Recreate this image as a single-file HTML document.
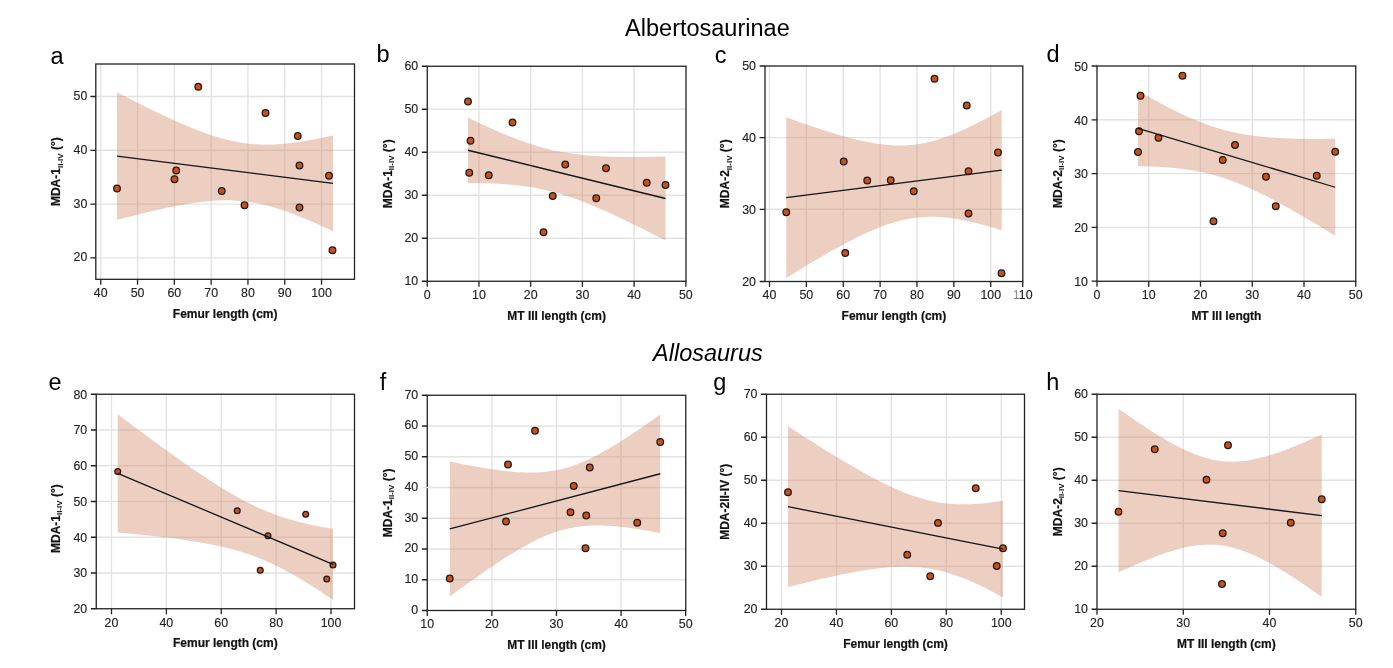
<!DOCTYPE html>
<html lang="en"><head><meta charset="utf-8"><title>Albertosaurinae and Allosaurus divarication vs length</title>
<style>html,body{margin:0;padding:0;background:#fff}body{width:1393px;height:668px;overflow:hidden}svg{display:block;will-change:transform}
text{font-family:"Liberation Sans", Arial, Helvetica, sans-serif;fill:#222}
.tk{font-size:12.4px;stroke:#222;stroke-width:.12px}.ti{font-size:12px;font-weight:bold;fill:#111;stroke:#111;stroke-width:.2px}.yt{font-size:12px;font-weight:bold;fill:#111;stroke:#111;stroke-width:.2px}.sb{font-size:8px;stroke:none}.pl{font-size:23.5px;fill:#000}.hd{font-size:23.5px;fill:#000}
.g{stroke:#e3e3e3;stroke-width:1.4;fill:none}.fr{stroke:#222;stroke-width:1.3;fill:none}.t{stroke:#222;stroke-width:1.3}.rb{fill:rgba(210,135,103,0.4);stroke:none}.ln{stroke:#141414;stroke-width:1.3;fill:none}.p{fill:#cc4f16;stroke:#1a1a1a;stroke-width:1.3}
</style></head><body>
<svg width="1393" height="668" viewBox="0 0 1393 668">
<rect width="1393" height="668" fill="#fff"/>
<text class="hd" x="707.4" y="35.8" text-anchor="middle">Albertosaurinae</text>
<text class="hd" x="707.9" y="360.5" text-anchor="middle" font-style="italic">Allosaurus</text>
<g id="panel-a">
<path class="g" d="M100.75 64V279.3M137.55 64V279.3M174.35 64V279.3M211.15 64V279.3M247.95 64V279.3M284.75 64V279.3M321.55 64V279.3M95.8 96.5H354.5M95.8 150.3H354.5M95.8 204.1H354.5M95.8 257.9H354.5"/>
<polygon class="rb" points="117,92.34 120.66,94.23 124.32,96.11 127.98,97.98 131.64,99.84 135.31,101.68 138.97,103.52 142.63,105.34 146.29,107.15 149.95,108.95 153.61,110.72 157.27,112.48 160.93,114.22 164.59,115.95 168.25,117.64 171.92,119.32 175.58,120.97 179.24,122.59 182.9,124.18 186.56,125.73 190.22,127.25 193.88,128.73 197.54,130.17 201.2,131.56 204.86,132.9 208.53,134.19 212.19,135.42 215.85,136.58 219.51,137.68 223.17,138.71 226.83,139.67 230.49,140.54 234.15,141.34 237.81,142.04 241.47,142.67 245.14,143.2 248.8,143.65 252.46,144.01 256.12,144.28 259.78,144.46 263.44,144.56 267.1,144.58 270.76,144.52 274.42,144.39 278.08,144.19 281.75,143.93 285.41,143.6 289.07,143.22 292.73,142.78 296.39,142.3 300.05,141.77 303.71,141.19 307.37,140.58 311.03,139.94 314.69,139.26 318.36,138.55 322.02,137.82 325.68,137.06 329.34,136.27 333,135.47 333,231.25 329.34,229.52 325.68,227.81 322.02,226.13 318.36,224.47 314.69,222.84 311.03,221.24 307.37,219.67 303.71,218.14 300.05,216.65 296.39,215.2 292.73,213.79 289.07,212.43 285.41,211.12 281.75,209.88 278.08,208.69 274.42,207.56 270.76,206.51 267.1,205.53 263.44,204.63 259.78,203.8 256.12,203.07 252.46,202.41 248.8,201.85 245.14,201.37 241.47,200.98 237.81,200.68 234.15,200.47 230.49,200.34 226.83,200.29 223.17,200.32 219.51,200.43 215.85,200.61 212.19,200.85 208.53,201.16 204.86,201.52 201.2,201.94 197.54,202.41 193.88,202.92 190.22,203.48 186.56,204.08 182.9,204.71 179.24,205.38 175.58,206.07 171.92,206.8 168.25,207.55 164.59,208.33 160.93,209.13 157.27,209.94 153.61,210.78 149.95,211.64 146.29,212.51 142.63,213.39 138.97,214.29 135.31,215.21 131.64,216.13 127.98,217.07 124.32,218.01 120.66,218.97 117,219.94"/>
<circle class="p" cx="198.25" cy="86.75" r="3.3"/>
<circle class="p" cx="265.5" cy="113" r="3.3"/>
<circle class="p" cx="297.75" cy="136" r="3.3"/>
<circle class="p" cx="299.5" cy="165.5" r="3.3"/>
<circle class="p" cx="329" cy="175.75" r="3.3"/>
<circle class="p" cx="176.25" cy="170.5" r="3.3"/>
<circle class="p" cx="174.5" cy="179.25" r="3.3"/>
<circle class="p" cx="117" cy="188.5" r="3.3"/>
<circle class="p" cx="221.75" cy="191" r="3.3"/>
<circle class="p" cx="244.5" cy="205.25" r="3.3"/>
<circle class="p" cx="299.5" cy="207.5" r="3.3"/>
<circle class="p" cx="332.5" cy="250.25" r="3.3"/>
<path class="ln" d="M117 156.14L333 183.36"/>
<rect class="fr" x="95.8" y="64" width="258.7" height="215.3"/>
<path class="t" d="M100.75 279.3v5.4M137.55 279.3v5.4M174.35 279.3v5.4M211.15 279.3v5.4M247.95 279.3v5.4M284.75 279.3v5.4M321.55 279.3v5.4M95.8 96.5h-5.4M95.8 150.3h-5.4M95.8 204.1h-5.4M95.8 257.9h-5.4"/>
<text class="tk" x="100.75" y="297.2" text-anchor="middle">40</text>
<text class="tk" x="137.55" y="297.2" text-anchor="middle">50</text>
<text class="tk" x="174.35" y="297.2" text-anchor="middle">60</text>
<text class="tk" x="211.15" y="297.2" text-anchor="middle">70</text>
<text class="tk" x="247.95" y="297.2" text-anchor="middle">80</text>
<text class="tk" x="284.75" y="297.2" text-anchor="middle">90</text>
<text class="tk" x="321.55" y="297.2" text-anchor="middle">100</text>
<text class="tk" x="87.4" y="100" text-anchor="end">50</text>
<text class="tk" x="87.4" y="153.8" text-anchor="end">40</text>
<text class="tk" x="87.4" y="207.6" text-anchor="end">30</text>
<text class="tk" x="87.4" y="261.4" text-anchor="end">20</text>
<text class="ti" x="225.15" y="317.9" text-anchor="middle">Femur length (cm)</text>
<text class="yt" transform="translate(60.3 171.65) rotate(-90)" text-anchor="middle">MDA-1<tspan class="sb" dy="2.6">II-IV</tspan><tspan dy="-2.6"> (°)</tspan></text>
<text class="pl" x="50.6" y="63.8">a</text>
</g>
<g id="panel-b">
<path class="g" d="M478.97 66.25V281.25M530.69 66.25V281.25M582.41 66.25V281.25M634.13 66.25V281.25M427.25 109.25H686M427.25 152.25H686M427.25 195.25H686M427.25 238.25H686"/>
<polygon class="rb" points="468,117.53 471.35,119.15 474.69,120.75 478.04,122.34 481.39,123.92 484.74,125.47 488.08,127 491.43,128.52 494.78,130.01 498.13,131.47 501.47,132.91 504.82,134.32 508.17,135.7 511.52,137.05 514.86,138.36 518.21,139.64 521.56,140.87 524.91,142.06 528.25,143.21 531.6,144.32 534.95,145.37 538.3,146.38 541.64,147.33 544.99,148.24 548.34,149.09 551.69,149.88 555.03,150.63 558.38,151.32 561.73,151.96 565.08,152.56 568.42,153.1 571.77,153.6 575.12,154.05 578.47,154.46 581.81,154.83 585.16,155.16 588.51,155.46 591.86,155.72 595.2,155.96 598.55,156.16 601.9,156.34 605.25,156.49 608.59,156.61 611.94,156.72 615.29,156.81 618.64,156.87 621.98,156.92 625.33,156.96 628.68,156.98 632.03,156.98 635.37,156.97 638.72,156.95 642.07,156.92 645.42,156.88 648.76,156.83 652.11,156.77 655.46,156.71 658.81,156.63 662.15,156.55 665.5,156.46 665.5,240.54 662.15,238.81 658.81,237.1 655.46,235.38 652.11,233.68 648.76,231.99 645.42,230.3 642.07,228.62 638.72,226.96 635.37,225.3 632.03,223.66 628.68,222.03 625.33,220.41 621.98,218.81 618.64,217.23 615.29,215.66 611.94,214.11 608.59,212.58 605.25,211.07 601.9,209.59 598.55,208.13 595.2,206.7 591.86,205.29 588.51,203.92 585.16,202.58 581.81,201.28 578.47,200.01 575.12,198.79 571.77,197.61 568.42,196.47 565.08,195.38 561.73,194.33 558.38,193.34 555.03,192.4 551.69,191.51 548.34,190.67 544.99,189.89 541.64,189.15 538.3,188.47 534.95,187.84 531.6,187.26 528.25,186.73 524.91,186.24 521.56,185.8 518.21,185.4 514.86,185.04 511.52,184.72 508.17,184.43 504.82,184.17 501.47,183.95 498.13,183.75 494.78,183.58 491.43,183.44 488.08,183.32 484.74,183.22 481.39,183.13 478.04,183.07 474.69,183.03 471.35,183 468,182.98"/>
<circle class="p" cx="468" cy="101.5" r="3.3"/>
<circle class="p" cx="512.5" cy="122.5" r="3.3"/>
<circle class="p" cx="470.5" cy="140.75" r="3.3"/>
<circle class="p" cx="469.25" cy="172.75" r="3.3"/>
<circle class="p" cx="488.75" cy="175.25" r="3.3"/>
<circle class="p" cx="565.25" cy="164.5" r="3.3"/>
<circle class="p" cx="606" cy="168.25" r="3.3"/>
<circle class="p" cx="646.75" cy="182.75" r="3.3"/>
<circle class="p" cx="665.5" cy="185" r="3.3"/>
<circle class="p" cx="552.75" cy="196" r="3.3"/>
<circle class="p" cx="596.25" cy="198.25" r="3.3"/>
<circle class="p" cx="543.5" cy="232.25" r="3.3"/>
<path class="ln" d="M468 150.25L665.5 198.5"/>
<rect class="fr" x="427.25" y="66.25" width="258.75" height="215"/>
<path class="t" d="M427.25 281.25v5.4M478.97 281.25v5.4M530.69 281.25v5.4M582.41 281.25v5.4M634.13 281.25v5.4M685.85 281.25v5.4M427.25 66.25h-5.4M427.25 109.25h-5.4M427.25 152.25h-5.4M427.25 195.25h-5.4M427.25 238.25h-5.4M427.25 281.25h-5.4"/>
<text class="tk" x="427.25" y="298.75" text-anchor="middle">0</text>
<text class="tk" x="478.97" y="298.75" text-anchor="middle">10</text>
<text class="tk" x="530.69" y="298.75" text-anchor="middle">20</text>
<text class="tk" x="582.41" y="298.75" text-anchor="middle">30</text>
<text class="tk" x="634.13" y="298.75" text-anchor="middle">40</text>
<text class="tk" x="685.85" y="298.75" text-anchor="middle">50</text>
<text class="tk" x="418.25" y="70.25" text-anchor="end">60</text>
<text class="tk" x="418.25" y="113.25" text-anchor="end">50</text>
<text class="tk" x="418.25" y="156.25" text-anchor="end">40</text>
<text class="tk" x="418.25" y="199.25" text-anchor="end">30</text>
<text class="tk" x="418.25" y="242.25" text-anchor="end">20</text>
<text class="tk" x="418.25" y="285.25" text-anchor="end">10</text>
<text class="ti" x="556.62" y="319.85" text-anchor="middle">MT III length (cm)</text>
<text class="yt" transform="translate(391.8 173.75) rotate(-90)" text-anchor="middle">MDA-1<tspan class="sb" dy="2.6">II-IV</tspan><tspan dy="-2.6"> (°)</tspan></text>
<text class="pl" x="376.5" y="61.5">b</text>
</g>
<g id="panel-c">
<path class="g" d="M769.5 66V281.5M806.37 66V281.5M843.24 66V281.5M880.11 66V281.5M916.98 66V281.5M953.85 66V281.5M990.72 66V281.5M765 137.6H1022.8M765 209.3H1022.8"/>
<polygon class="rb" points="786.25,117.27 789.9,118.6 793.56,119.91 797.21,121.22 800.86,122.51 804.51,123.79 808.17,125.05 811.82,126.3 815.47,127.53 819.12,128.74 822.78,129.93 826.43,131.1 830.08,132.24 833.73,133.36 837.39,134.45 841.04,135.51 844.69,136.54 848.34,137.53 852,138.48 855.65,139.4 859.3,140.26 862.95,141.08 866.61,141.84 870.26,142.54 873.91,143.19 877.56,143.76 881.22,144.26 884.87,144.68 888.52,145.02 892.17,145.27 895.83,145.43 899.48,145.48 903.13,145.44 906.78,145.29 910.44,145.03 914.09,144.66 917.74,144.18 921.39,143.59 925.05,142.88 928.7,142.07 932.35,141.16 936,140.14 939.66,139.02 943.31,137.82 946.96,136.52 950.61,135.15 954.27,133.69 957.92,132.17 961.57,130.58 965.22,128.93 968.88,127.22 972.53,125.45 976.18,123.64 979.83,121.79 983.49,119.89 987.14,117.96 990.79,115.99 994.44,113.99 998.1,111.96 1001.75,109.9 1001.75,230.33 998.1,229.21 994.44,228.11 990.79,227.04 987.14,226 983.49,225 979.83,224.03 976.18,223.11 972.53,222.23 968.88,221.4 965.22,220.62 961.57,219.9 957.92,219.24 954.27,218.65 950.61,218.12 946.96,217.68 943.31,217.32 939.66,217.04 936,216.86 932.35,216.77 928.7,216.79 925.05,216.91 921.39,217.13 917.74,217.47 914.09,217.92 910.44,218.48 906.78,219.16 903.13,219.94 899.48,220.82 895.83,221.81 892.17,222.9 888.52,224.08 884.87,225.35 881.22,226.7 877.56,228.14 873.91,229.64 870.26,231.21 866.61,232.85 862.95,234.54 859.3,236.29 855.65,238.09 852,239.93 848.34,241.81 844.69,243.74 841.04,245.7 837.39,247.69 833.73,249.71 830.08,251.76 826.43,253.84 822.78,255.93 819.12,258.06 815.47,260.2 811.82,262.36 808.17,264.54 804.51,266.73 800.86,268.94 797.21,271.16 793.56,273.4 789.9,275.65 786.25,277.91"/>
<circle class="p" cx="934.5" cy="78.75" r="3.3"/>
<circle class="p" cx="966.75" cy="105.5" r="3.3"/>
<circle class="p" cx="998" cy="152.5" r="3.3"/>
<circle class="p" cx="843.75" cy="161.5" r="3.3"/>
<circle class="p" cx="968.5" cy="171.25" r="3.3"/>
<circle class="p" cx="867.25" cy="180.5" r="3.3"/>
<circle class="p" cx="890.75" cy="180.25" r="3.3"/>
<circle class="p" cx="913.75" cy="191.25" r="3.3"/>
<circle class="p" cx="786.25" cy="212.25" r="3.3"/>
<circle class="p" cx="968.5" cy="213.5" r="3.3"/>
<circle class="p" cx="845.25" cy="253" r="3.3"/>
<circle class="p" cx="1001.5" cy="273.25" r="3.3"/>
<path class="ln" d="M786.25 197.59L1001.75 170.12"/>
<rect class="fr" x="765" y="66" width="257.8" height="215.5"/>
<path class="t" d="M769.5 281.5v5.4M806.37 281.5v5.4M843.24 281.5v5.4M880.11 281.5v5.4M916.98 281.5v5.4M953.85 281.5v5.4M990.72 281.5v5.4M1022.75 281.5v5.4M765 66h-5.4M765 137.6h-5.4M765 209.3h-5.4M765 281.5h-5.4"/>
<text class="tk" x="769.5" y="299" text-anchor="middle">40</text>
<text class="tk" x="806.37" y="299" text-anchor="middle">50</text>
<text class="tk" x="843.24" y="299" text-anchor="middle">60</text>
<text class="tk" x="880.11" y="299" text-anchor="middle">70</text>
<text class="tk" x="916.98" y="299" text-anchor="middle">80</text>
<text class="tk" x="953.85" y="299" text-anchor="middle">90</text>
<text class="tk" x="990.72" y="299" text-anchor="middle">100</text>
<text class="tk" x="1022.75" y="299" text-anchor="middle"><tspan fill="#8a8a8a" stroke="none">1</tspan>10</text>
<text class="tk" x="756" y="70.4" text-anchor="end">50</text>
<text class="tk" x="756" y="142" text-anchor="end">40</text>
<text class="tk" x="756" y="213.7" text-anchor="end">30</text>
<text class="tk" x="756" y="285.9" text-anchor="end">20</text>
<text class="ti" x="893.9" y="320.1" text-anchor="middle">Femur length (cm)</text>
<text class="yt" transform="translate(729.2 173.75) rotate(-90)" text-anchor="middle">MDA-2<tspan class="sb" dy="2.6">II-IV</tspan><tspan dy="-2.6"> (°)</tspan></text>
<text class="pl" x="714.8" y="62.5">c</text>
</g>
<g id="panel-d">
<path class="g" d="M1148.75 66V281.25M1200.5 66V281.25M1252.25 66V281.25M1304 66V281.25M1097 119.8H1355.75M1097 173.6H1355.75M1097 227.4H1355.75"/>
<polygon class="rb" points="1138,90.62 1141.34,92.54 1144.69,94.45 1148.03,96.34 1151.37,98.2 1154.72,100.05 1158.06,101.87 1161.4,103.67 1164.75,105.45 1168.09,107.19 1171.43,108.91 1174.78,110.59 1178.12,112.23 1181.46,113.84 1184.81,115.41 1188.15,116.93 1191.49,118.41 1194.83,119.84 1198.18,121.22 1201.52,122.55 1204.86,123.82 1208.21,125.03 1211.55,126.19 1214.89,127.29 1218.24,128.32 1221.58,129.3 1224.92,130.21 1228.27,131.06 1231.61,131.86 1234.95,132.6 1238.3,133.28 1241.64,133.91 1244.98,134.48 1248.33,135.01 1251.67,135.49 1255.01,135.93 1258.36,136.33 1261.7,136.69 1265.04,137.01 1268.39,137.3 1271.73,137.56 1275.07,137.79 1278.42,137.99 1281.76,138.17 1285.1,138.32 1288.44,138.45 1291.79,138.57 1295.13,138.66 1298.47,138.74 1301.82,138.8 1305.16,138.84 1308.5,138.88 1311.85,138.9 1315.19,138.9 1318.53,138.9 1321.88,138.89 1325.22,138.86 1328.56,138.83 1331.91,138.79 1335.25,138.74 1335.25,235.76 1331.91,233.71 1328.56,231.68 1325.22,229.65 1321.88,227.63 1318.53,225.62 1315.19,223.62 1311.85,221.63 1308.5,219.66 1305.16,217.69 1301.82,215.74 1298.47,213.81 1295.13,211.89 1291.79,209.99 1288.44,208.1 1285.1,206.24 1281.76,204.4 1278.42,202.58 1275.07,200.79 1271.73,199.02 1268.39,197.28 1265.04,195.58 1261.7,193.9 1258.36,192.27 1255.01,190.67 1251.67,189.11 1248.33,187.6 1244.98,186.13 1241.64,184.71 1238.3,183.34 1234.95,182.03 1231.61,180.77 1228.27,179.57 1224.92,178.43 1221.58,177.34 1218.24,176.32 1214.89,175.36 1211.55,174.46 1208.21,173.62 1204.86,172.84 1201.52,172.12 1198.18,171.45 1194.83,170.83 1191.49,170.27 1188.15,169.75 1184.81,169.28 1181.46,168.85 1178.12,168.46 1174.78,168.11 1171.43,167.79 1168.09,167.51 1164.75,167.26 1161.4,167.04 1158.06,166.84 1154.72,166.67 1151.37,166.52 1148.03,166.39 1144.69,166.29 1141.34,166.2 1138,166.12"/>
<circle class="p" cx="1182.5" cy="75.75" r="3.3"/>
<circle class="p" cx="1140.5" cy="95.75" r="3.3"/>
<circle class="p" cx="1139" cy="131.25" r="3.3"/>
<circle class="p" cx="1158.5" cy="137.75" r="3.3"/>
<circle class="p" cx="1138" cy="152" r="3.3"/>
<circle class="p" cx="1235" cy="145" r="3.3"/>
<circle class="p" cx="1222.75" cy="160" r="3.3"/>
<circle class="p" cx="1335.25" cy="151.75" r="3.3"/>
<circle class="p" cx="1266" cy="176.75" r="3.3"/>
<circle class="p" cx="1316.75" cy="175.75" r="3.3"/>
<circle class="p" cx="1275.75" cy="206.25" r="3.3"/>
<circle class="p" cx="1213.5" cy="221.25" r="3.3"/>
<path class="ln" d="M1138 128.37L1335.25 187.25"/>
<rect class="fr" x="1097" y="66" width="258.75" height="215.25"/>
<path class="t" d="M1097 281.25v5.4M1148.75 281.25v5.4M1200.5 281.25v5.4M1252.25 281.25v5.4M1304 281.25v5.4M1355.75 281.25v5.4M1097 66h-5.4M1097 119.8h-5.4M1097 173.6h-5.4M1097 227.4h-5.4M1097 281.2h-5.4"/>
<text class="tk" x="1097" y="298.75" text-anchor="middle">0</text>
<text class="tk" x="1148.75" y="298.75" text-anchor="middle">10</text>
<text class="tk" x="1200.5" y="298.75" text-anchor="middle">20</text>
<text class="tk" x="1252.25" y="298.75" text-anchor="middle">30</text>
<text class="tk" x="1304" y="298.75" text-anchor="middle">40</text>
<text class="tk" x="1355.75" y="298.75" text-anchor="middle">50</text>
<text class="tk" x="1088" y="70.7" text-anchor="end">50</text>
<text class="tk" x="1088" y="124.5" text-anchor="end">40</text>
<text class="tk" x="1088" y="178.3" text-anchor="end">30</text>
<text class="tk" x="1088" y="232.1" text-anchor="end">20</text>
<text class="tk" x="1088" y="285.9" text-anchor="end">10</text>
<text class="ti" x="1226.38" y="319.85" text-anchor="middle">MT III length</text>
<text class="yt" transform="translate(1061.7 173.62) rotate(-90)" text-anchor="middle">MDA-2<tspan class="sb" dy="2.6">II-IV</tspan><tspan dy="-2.6"> (°)</tspan></text>
<text class="pl" x="1046.4" y="61.5">d</text>
</g>
<g id="panel-e">
<path class="g" d="M111.5 394.25V608.75M166.38 394.25V608.75M221.26 394.25V608.75M276.14 394.25V608.75M331.02 394.25V608.75M96.25 430H354.5M96.25 465.75H354.5M96.25 501.5H354.5M96.25 537.25H354.5M96.25 573H354.5"/>
<polygon class="rb" points="117.75,414.19 121.4,416.94 125.05,419.68 128.69,422.42 132.34,425.16 135.99,427.88 139.64,430.6 143.29,433.31 146.94,436.01 150.58,438.7 154.23,441.39 157.88,444.06 161.53,446.72 165.18,449.37 168.83,452.01 172.47,454.63 176.12,457.23 179.77,459.82 183.42,462.4 187.07,464.95 190.72,467.48 194.36,469.99 198.01,472.48 201.66,474.93 205.31,477.36 208.96,479.76 212.61,482.13 216.25,484.46 219.9,486.75 223.55,488.99 227.2,491.2 230.85,493.35 234.5,495.45 238.14,497.5 241.79,499.49 245.44,501.41 249.09,503.28 252.74,505.07 256.39,506.8 260.03,508.46 263.68,510.04 267.33,511.56 270.98,513 274.63,514.37 278.28,515.68 281.92,516.92 285.57,518.09 289.22,519.2 292.87,520.25 296.52,521.25 300.17,522.19 303.81,523.08 307.46,523.93 311.11,524.73 314.76,525.5 318.41,526.23 322.06,526.92 325.7,527.58 329.35,528.21 333,528.82 333,599.86 329.35,597.38 325.7,594.93 322.06,592.5 318.41,590.11 314.76,587.75 311.11,585.43 307.46,583.15 303.81,580.92 300.17,578.73 296.52,576.58 292.87,574.5 289.22,572.46 285.57,570.49 281.92,568.58 278.28,566.73 274.63,564.95 270.98,563.24 267.33,561.6 263.68,560.03 260.03,558.53 256.39,557.1 252.74,555.74 249.09,554.46 245.44,553.23 241.79,552.08 238.14,550.98 234.5,549.94 230.85,548.96 227.2,548.03 223.55,547.15 219.9,546.31 216.25,545.51 212.61,544.76 208.96,544.04 205.31,543.35 201.66,542.7 198.01,542.07 194.36,541.47 190.72,540.9 187.07,540.35 183.42,539.81 179.77,539.3 176.12,538.81 172.47,538.33 168.83,537.87 165.18,537.42 161.53,536.98 157.88,536.56 154.23,536.15 150.58,535.75 146.94,535.35 143.29,534.97 139.64,534.6 135.99,534.23 132.34,533.87 128.69,533.52 125.05,533.17 121.4,532.84 117.75,532.5"/>
<circle class="p" cx="117.75" cy="471.5" r="2.9"/>
<circle class="p" cx="237.25" cy="510.75" r="2.9"/>
<circle class="p" cx="305.75" cy="514.25" r="2.9"/>
<circle class="p" cx="268" cy="535.75" r="2.9"/>
<circle class="p" cx="260.25" cy="570.25" r="2.9"/>
<circle class="p" cx="333" cy="565" r="2.9"/>
<circle class="p" cx="326.75" cy="579" r="2.9"/>
<path class="ln" d="M117.75 473.34L333 564.34"/>
<rect class="fr" x="96.25" y="394.25" width="258.25" height="214.5"/>
<path class="t" d="M111.5 608.75v5.4M166.38 608.75v5.4M221.26 608.75v5.4M276.14 608.75v5.4M331.02 608.75v5.4M96.25 394.25h-5.4M96.25 430h-5.4M96.25 465.75h-5.4M96.25 501.5h-5.4M96.25 537.25h-5.4M96.25 573h-5.4M96.25 608.75h-5.4"/>
<text class="tk" x="111.5" y="626.75" text-anchor="middle">20</text>
<text class="tk" x="166.38" y="626.75" text-anchor="middle">40</text>
<text class="tk" x="221.26" y="626.75" text-anchor="middle">60</text>
<text class="tk" x="276.14" y="626.75" text-anchor="middle">80</text>
<text class="tk" x="331.02" y="626.75" text-anchor="middle">100</text>
<text class="tk" x="87.25" y="398.55" text-anchor="end">80</text>
<text class="tk" x="87.25" y="434.3" text-anchor="end">70</text>
<text class="tk" x="87.25" y="470.05" text-anchor="end">60</text>
<text class="tk" x="87.25" y="505.8" text-anchor="end">50</text>
<text class="tk" x="87.25" y="541.55" text-anchor="end">40</text>
<text class="tk" x="87.25" y="577.3" text-anchor="end">30</text>
<text class="tk" x="87.25" y="613.05" text-anchor="end">20</text>
<text class="ti" x="225.38" y="647.35" text-anchor="middle">Femur length (cm)</text>
<text class="yt" transform="translate(59.5 518.6) rotate(-90)" text-anchor="middle">MDA-1<tspan class="sb" dy="2.6">II-IV</tspan><tspan dy="-2.6"> (°)</tspan></text>
<text class="pl" x="48.5" y="389.75">e</text>
</g>
<g id="panel-f">
<path class="g" d="M491.85 395.25V610.5M556.45 395.25V610.5M621.05 395.25V610.5M427.25 426H685.75M427.25 456.75H685.75M427.25 487.5H685.75M427.25 518.25H685.75M427.25 549H685.75M427.25 579.75H685.75"/>
<polygon class="rb" points="449.75,461.52 453.32,462.26 456.89,462.99 460.45,463.7 464.02,464.4 467.59,465.08 471.16,465.75 474.72,466.4 478.29,467.04 481.86,467.65 485.43,468.24 489,468.8 492.56,469.34 496.13,469.85 499.7,470.33 503.27,470.77 506.83,471.18 510.4,471.54 513.97,471.86 517.54,472.13 521.11,472.34 524.67,472.49 528.24,472.57 531.81,472.59 535.38,472.52 538.94,472.37 542.51,472.13 546.08,471.8 549.65,471.36 553.22,470.82 556.78,470.17 560.35,469.4 563.92,468.52 567.49,467.53 571.06,466.41 574.62,465.19 578.19,463.85 581.76,462.41 585.33,460.87 588.89,459.23 592.46,457.5 596.03,455.69 599.6,453.8 603.17,451.84 606.73,449.81 610.3,447.72 613.87,445.58 617.44,443.39 621,441.15 624.57,438.87 628.14,436.56 631.71,434.21 635.28,431.82 638.84,429.41 642.41,426.97 645.98,424.51 649.55,422.02 653.11,419.52 656.68,416.99 660.25,414.45 660.25,533.05 656.68,532.38 653.11,531.72 649.55,531.09 645.98,530.48 642.41,529.89 638.84,529.32 635.28,528.78 631.71,528.27 628.14,527.79 624.57,527.34 621,526.93 617.44,526.57 613.87,526.25 610.3,525.98 606.73,525.76 603.17,525.61 599.6,525.52 596.03,525.5 592.46,525.56 588.89,525.71 585.33,525.94 581.76,526.27 578.19,526.7 574.62,527.23 571.06,527.88 567.49,528.64 563.92,529.51 560.35,530.51 556.78,531.61 553.22,532.83 549.65,534.16 546.08,535.6 542.51,537.13 538.94,538.77 535.38,540.49 531.81,542.3 528.24,544.18 524.67,546.14 521.11,548.16 517.54,550.25 513.97,552.38 510.4,554.57 506.83,556.81 503.27,559.09 499.7,561.4 496.13,563.75 492.56,566.13 489,568.54 485.43,570.98 481.86,573.44 478.29,575.93 474.72,578.43 471.16,580.96 467.59,583.5 464.02,586.05 460.45,588.62 456.89,591.21 453.32,593.81 449.75,596.41"/>
<circle class="p" cx="535" cy="430.75" r="3.3"/>
<circle class="p" cx="508" cy="464.5" r="3.3"/>
<circle class="p" cx="589.75" cy="467.5" r="3.3"/>
<circle class="p" cx="660.25" cy="442" r="3.3"/>
<circle class="p" cx="573.75" cy="486" r="3.3"/>
<circle class="p" cx="570.5" cy="512.25" r="3.3"/>
<circle class="p" cx="586.25" cy="515.5" r="3.3"/>
<circle class="p" cx="506" cy="521.5" r="3.3"/>
<circle class="p" cx="637.25" cy="522.75" r="3.3"/>
<circle class="p" cx="585.5" cy="548.25" r="3.3"/>
<circle class="p" cx="449.75" cy="578.5" r="3.3"/>
<path class="ln" d="M449.75 528.97L660.25 473.75"/>
<rect class="fr" x="427.25" y="395.25" width="258.5" height="215.25"/>
<path class="t" d="M427.25 610.5v5.4M491.85 610.5v5.4M556.45 610.5v5.4M621.05 610.5v5.4M685.65 610.5v5.4M427.25 395.25h-5.4M427.25 426h-5.4M427.25 456.75h-5.4M427.25 518.25h-5.4M427.25 549h-5.4M427.25 579.75h-5.4M427.25 610.5h-5.4"/>
<path class="g" d="M421.85 487.5h8"/>
<text class="tk" x="427.25" y="628" text-anchor="middle">10</text>
<text class="tk" x="491.85" y="628" text-anchor="middle">20</text>
<text class="tk" x="556.45" y="628" text-anchor="middle">30</text>
<text class="tk" x="621.05" y="628" text-anchor="middle">40</text>
<text class="tk" x="685.65" y="628" text-anchor="middle">50</text>
<text class="tk" x="418.25" y="398.55" text-anchor="end">70</text>
<text class="tk" x="418.25" y="429.3" text-anchor="end">60</text>
<text class="tk" x="418.25" y="460.05" text-anchor="end">50</text>
<text class="tk" x="418.25" y="490.8" text-anchor="end">40</text>
<text class="tk" x="418.25" y="521.55" text-anchor="end">30</text>
<text class="tk" x="418.25" y="552.3" text-anchor="end">20</text>
<text class="tk" x="418.25" y="583.05" text-anchor="end">10</text>
<text class="tk" x="418.25" y="613.8" text-anchor="end">0</text>
<text class="ti" x="556.5" y="649.1" text-anchor="middle">MT III length (cm)</text>
<text class="yt" transform="translate(391.8 502.88) rotate(-90)" text-anchor="middle">MDA-1<tspan class="sb" dy="2.6">II-IV</tspan><tspan dy="-2.6"> (°)</tspan></text>
<text class="pl" x="379.7" y="389.65">f</text>
</g>
<g id="panel-g">
<path class="g" d="M781.5 394.25V609.25M836.44 394.25V609.25M891.38 394.25V609.25M946.32 394.25V609.25M1001.26 394.25V609.25M766.5 437.25H1024.5M766.5 480.25H1024.5M766.5 523.25H1024.5M766.5 566.25H1024.5"/>
<polygon class="rb" points="788,426.24 791.64,428.6 795.29,430.96 798.93,433.3 802.58,435.64 806.22,437.97 809.86,440.29 813.51,442.6 817.15,444.89 820.8,447.18 824.44,449.45 828.08,451.7 831.73,453.94 835.37,456.17 839.02,458.37 842.66,460.56 846.31,462.73 849.95,464.87 853.59,466.99 857.24,469.09 860.88,471.15 864.53,473.19 868.17,475.19 871.81,477.15 875.46,479.08 879.1,480.96 882.75,482.8 886.39,484.59 890.03,486.32 893.68,488 897.32,489.62 900.97,491.17 904.61,492.65 908.25,494.05 911.9,495.38 915.54,496.62 919.19,497.77 922.83,498.83 926.47,499.8 930.12,500.68 933.76,501.46 937.41,502.14 941.05,502.72 944.69,503.21 948.34,503.61 951.98,503.91 955.63,504.13 959.27,504.26 962.92,504.31 966.56,504.28 970.2,504.19 973.85,504.02 977.49,503.8 981.14,503.51 984.78,503.17 988.42,502.78 992.07,502.35 995.71,501.87 999.36,501.35 1003,500.8 1003,597.44 999.36,595.44 995.71,593.48 992.07,591.57 988.42,589.69 984.78,587.86 981.14,586.09 977.49,584.36 973.85,582.7 970.2,581.1 966.56,579.56 962.92,578.1 959.27,576.71 955.63,575.4 951.98,574.18 948.34,573.04 944.69,572 941.05,571.05 937.41,570.19 933.76,569.44 930.12,568.77 926.47,568.21 922.83,567.74 919.19,567.37 915.54,567.08 911.9,566.88 908.25,566.77 904.61,566.73 900.97,566.77 897.32,566.88 893.68,567.06 890.03,567.3 886.39,567.6 882.75,567.95 879.1,568.35 875.46,568.79 871.81,569.28 868.17,569.8 864.53,570.37 860.88,570.96 857.24,571.59 853.59,572.24 849.95,572.92 846.31,573.63 842.66,574.36 839.02,575.11 835.37,575.87 831.73,576.66 828.08,577.46 824.44,578.28 820.8,579.11 817.15,579.95 813.51,580.81 809.86,581.68 806.22,582.56 802.58,583.45 798.93,584.35 795.29,585.26 791.64,586.17 788,587.1"/>
<circle class="p" cx="788" cy="492.25" r="3.3"/>
<circle class="p" cx="975.75" cy="488.25" r="3.3"/>
<circle class="p" cx="938" cy="522.9" r="3.3"/>
<circle class="p" cx="907.25" cy="554.75" r="3.3"/>
<circle class="p" cx="930.25" cy="576.25" r="3.3"/>
<circle class="p" cx="1003" cy="548.25" r="3.3"/>
<circle class="p" cx="996.75" cy="566" r="3.3"/>
<path class="ln" d="M788 506.67L1003 549.12"/>
<rect class="fr" x="766.5" y="394.25" width="258" height="215"/>
<path class="t" d="M781.5 609.25v5.4M836.44 609.25v5.4M891.38 609.25v5.4M946.32 609.25v5.4M1001.26 609.25v5.4M766.5 394.25h-5.4M766.5 437.25h-5.4M766.5 480.25h-5.4M766.5 523.25h-5.4M766.5 566.25h-5.4M766.5 609.25h-5.4"/>
<text class="tk" x="781.5" y="626.75" text-anchor="middle">20</text>
<text class="tk" x="836.44" y="626.75" text-anchor="middle">40</text>
<text class="tk" x="891.38" y="626.75" text-anchor="middle">60</text>
<text class="tk" x="946.32" y="626.75" text-anchor="middle">80</text>
<text class="tk" x="1001.26" y="626.75" text-anchor="middle">100</text>
<text class="tk" x="757.5" y="398.3" text-anchor="end">70</text>
<text class="tk" x="757.5" y="441.3" text-anchor="end">60</text>
<text class="tk" x="757.5" y="484.3" text-anchor="end">50</text>
<text class="tk" x="757.5" y="527.3" text-anchor="end">40</text>
<text class="tk" x="757.5" y="570.3" text-anchor="end">30</text>
<text class="tk" x="757.5" y="613.3" text-anchor="end">20</text>
<text class="ti" x="895.5" y="647.85" text-anchor="middle">Femur length (cm)</text>
<text class="yt" transform="translate(728.6 501.75) rotate(-90)" text-anchor="middle">MDA-2II-IV (°)</text>
<text class="pl" x="713.25" y="389.75">g</text>
</g>
<g id="panel-h">
<path class="g" d="M1183.25 394.25V609.25M1269.5 394.25V609.25M1097 437.25H1355.75M1097 480.25H1355.75M1097 523.25H1355.75M1097 566.25H1355.75"/>
<polygon class="rb" points="1118.5,408.69 1121.94,411.13 1125.39,413.56 1128.83,415.96 1132.28,418.34 1135.72,420.7 1139.17,423.03 1142.61,425.33 1146.06,427.6 1149.5,429.83 1152.95,432.03 1156.39,434.19 1159.84,436.3 1163.28,438.36 1166.73,440.38 1170.17,442.34 1173.62,444.23 1177.06,446.06 1180.51,447.82 1183.95,449.5 1187.4,451.1 1190.84,452.6 1194.29,454.01 1197.73,455.32 1201.18,456.51 1204.62,457.59 1208.07,458.56 1211.51,459.39 1214.96,460.1 1218.4,460.68 1221.85,461.12 1225.29,461.44 1228.74,461.62 1232.18,461.67 1235.63,461.6 1239.07,461.4 1242.52,461.09 1245.96,460.67 1249.41,460.14 1252.85,459.51 1256.3,458.79 1259.74,457.99 1263.19,457.11 1266.63,456.15 1270.08,455.12 1273.52,454.03 1276.97,452.89 1280.41,451.69 1283.86,450.44 1287.3,449.15 1290.75,447.81 1294.19,446.44 1297.64,445.04 1301.08,443.6 1304.53,442.13 1307.97,440.63 1311.42,439.11 1314.86,437.56 1318.31,436 1321.75,434.41 1321.75,596.91 1318.31,594.47 1314.86,592.05 1311.42,589.66 1307.97,587.28 1304.53,584.93 1301.08,582.61 1297.64,580.32 1294.19,578.06 1290.75,575.84 1287.3,573.65 1283.86,571.51 1280.41,569.41 1276.97,567.36 1273.52,565.36 1270.08,563.42 1266.63,561.54 1263.19,559.73 1259.74,558 1256.3,556.34 1252.85,554.77 1249.41,553.29 1245.96,551.91 1242.52,550.64 1239.07,549.47 1235.63,548.43 1232.18,547.5 1228.74,546.7 1225.29,546.03 1221.85,545.49 1218.4,545.08 1214.96,544.81 1211.51,544.67 1208.07,544.65 1204.62,544.76 1201.18,544.99 1197.73,545.34 1194.29,545.79 1190.84,546.35 1187.4,547 1183.95,547.74 1180.51,548.57 1177.06,549.48 1173.62,550.45 1170.17,551.5 1166.73,552.6 1163.28,553.77 1159.84,554.98 1156.39,556.24 1152.95,557.55 1149.5,558.89 1146.06,560.27 1142.61,561.69 1139.17,563.14 1135.72,564.62 1132.28,566.12 1128.83,567.65 1125.39,569.2 1121.94,570.77 1118.5,572.37"/>
<circle class="p" cx="1154.75" cy="449.25" r="3.3"/>
<circle class="p" cx="1228" cy="445.25" r="3.3"/>
<circle class="p" cx="1206.5" cy="479.75" r="3.3"/>
<circle class="p" cx="1118.5" cy="511.75" r="3.3"/>
<circle class="p" cx="1321.75" cy="499.25" r="3.3"/>
<circle class="p" cx="1290.75" cy="522.75" r="3.3"/>
<circle class="p" cx="1222.75" cy="533.25" r="3.3"/>
<circle class="p" cx="1222" cy="584" r="3.3"/>
<path class="ln" d="M1118.5 490.53L1321.75 515.66"/>
<rect class="fr" x="1097" y="394.25" width="258.75" height="215"/>
<path class="t" d="M1097 609.25v5.4M1183.25 609.25v5.4M1269.5 609.25v5.4M1355.75 609.25v5.4M1097 394.25h-5.4M1097 437.25h-5.4M1097 480.25h-5.4M1097 523.25h-5.4M1097 566.25h-5.4M1097 609.25h-5.4"/>
<text class="tk" x="1097" y="626.75" text-anchor="middle">20</text>
<text class="tk" x="1183.25" y="626.75" text-anchor="middle">30</text>
<text class="tk" x="1269.5" y="626.75" text-anchor="middle">40</text>
<text class="tk" x="1355.75" y="626.75" text-anchor="middle">50</text>
<text class="tk" x="1088" y="398.15" text-anchor="end">60</text>
<text class="tk" x="1088" y="441.15" text-anchor="end">50</text>
<text class="tk" x="1088" y="484.15" text-anchor="end">40</text>
<text class="tk" x="1088" y="527.15" text-anchor="end">30</text>
<text class="tk" x="1088" y="570.15" text-anchor="end">20</text>
<text class="tk" x="1088" y="613.15" text-anchor="end">10</text>
<text class="ti" x="1226.38" y="647.85" text-anchor="middle">MT III length (cm)</text>
<text class="yt" transform="translate(1061.7 501.75) rotate(-90)" text-anchor="middle">MDA-2<tspan class="sb" dy="2.6">II-IV</tspan><tspan dy="-2.6"> (°)</tspan></text>
<text class="pl" x="1046.3" y="389.5">h</text>
</g>
</svg></body></html>
